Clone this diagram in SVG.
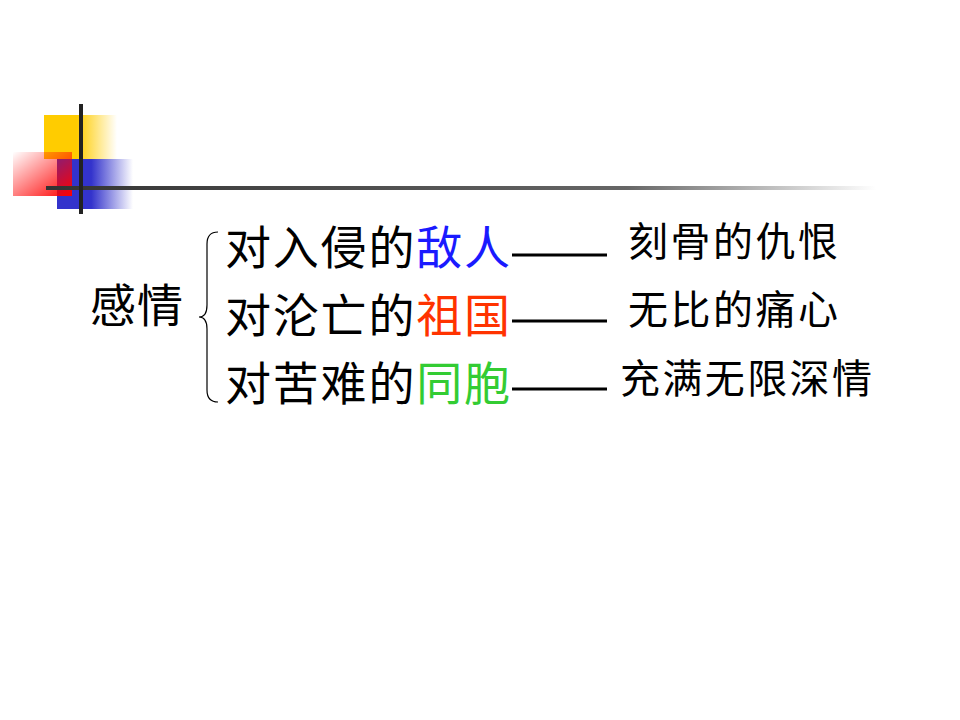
<svg xmlns="http://www.w3.org/2000/svg" width="960" height="720" viewBox="0 0 960 720">
<defs>
<linearGradient id="gy" x1="0" x2="1"><stop offset="0.45" stop-color="#ffcc00"/><stop offset="1" stop-color="#ffcc00" stop-opacity="0"/></linearGradient>
<linearGradient id="gb" x1="0" x2="1"><stop offset="0.45" stop-color="#3333cc"/><stop offset="1" stop-color="#3333cc" stop-opacity="0"/></linearGradient>
<linearGradient id="gr" x1="0" y1="0" x2="1" y2="1"><stop offset="0" stop-color="#ff0000" stop-opacity="0"/><stop offset="1" stop-color="#ff0000"/></linearGradient>
<linearGradient id="gl" x1="0" x2="1"><stop offset="0" stop-color="#333"/><stop offset="0.7" stop-color="#666"/><stop offset="1" stop-color="#666" stop-opacity="0"/></linearGradient>
<style>
text{font-family:"Noto Sans CJK SC","Noto Sans CJK JP",sans-serif;fill:#000}
.m{font-size:46px}.r{font-size:40px}
</style>
</defs>
<g id="decor">
<rect x="44" y="115" width="73" height="44" fill="url(#gy)"/>
<rect x="57" y="159" width="76" height="50" fill="url(#gb)"/>
<rect x="13" y="152" width="59" height="44" fill="url(#gr)"/>
<rect x="46" y="186" width="830" height="4" fill="url(#gl)"/>
<rect x="79" y="104" width="4" height="110" fill="#222"/>
</g>
<g id="root"><text class="m" x="90" y="322" textLength="93">感情</text></g>
<g id="brace"><path d="M218,232 Q207,232 207,244 L207,305 Q207,317 199,317 Q207,317 207,329 L207,390 Q207,402 218,402" fill="none" stroke="#000" stroke-width="1.2"/></g>
<g id="n1"><text class="m" x="225" y="264" textLength="285">对入侵的<tspan fill="#1a1aff">敌人</tspan></text></g>
<g id="n2"><text class="m" x="225" y="332" textLength="285">对沦亡的<tspan fill="#ff3300">祖国</tspan></text></g>
<g id="n3"><text class="m" x="225" y="400" textLength="285">对苦难的<tspan fill="#33cc33">同胞</tspan></text></g>
<g id="connectors" stroke="#000" stroke-width="3">
<line x1="512" y1="255" x2="607" y2="255"/>
<line x1="512" y1="321" x2="607" y2="321"/>
<line x1="512" y1="389" x2="607" y2="389"/>
</g>
<g id="r1"><text class="r" x="628" y="256" textLength="210">刻骨的仇恨</text></g>
<g id="r2"><text class="r" x="628" y="324" textLength="210">无比的痛心</text></g>
<g id="r3"><text class="r" x="620" y="393" textLength="252">充满无限深情</text></g>
</svg>
